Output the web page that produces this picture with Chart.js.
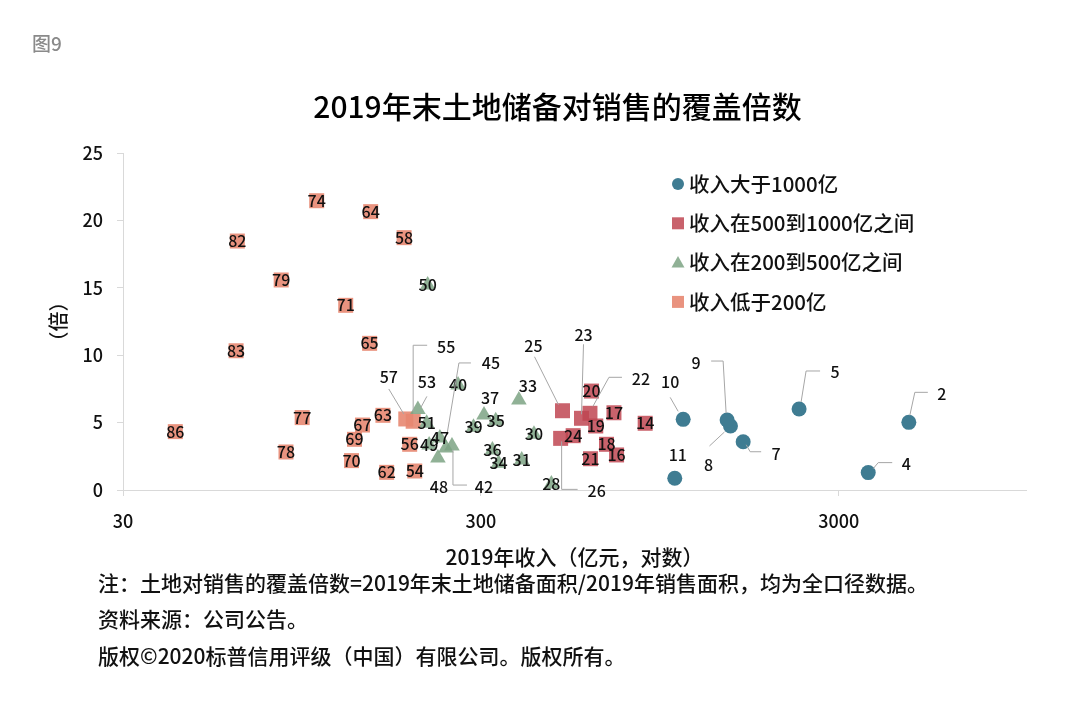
<!DOCTYPE html>
<html lang="zh-CN">
<head>
<meta charset="utf-8">
<title>2019年末土地储备对销售的覆盖倍数</title>
<script src="https://cdn.jsdelivr.net/npm/chart.js@4/dist/chart.umd.min.js"></script>
<style>
	html, body { margin: 0; padding: 0; background: #fff; }
	#wrap { position: relative; width: 1080px; height: 705px; overflow: hidden; font-family: "Noto Sans CJK SC", "Noto Sans", sans-serif; }
	#chart-cover { position: absolute; left: 0; top: 0; }
	.fig-no { position: absolute; left: 32px; top: 31px; font-size: 19px; line-height: 24px; color: #8a8a8a; font-weight: 500; }
	.chart-title { position: absolute; left: 0; top: 87px; width: 1115px; text-align: center; font-size: 30px; line-height: 36px; color: #000; font-weight: 500; }
	.note { position: absolute; left: 98px; font-size: 21px; line-height: 24px; color: #111; white-space: nowrap; font-weight: 500; }
</style>
</head>
<body>
<div id="wrap">
	<canvas id="chart-cover" width="1080" height="705"></canvas>
	<div class="fig-no">图9</div>
	<div class="chart-title">2019年末土地储备对销售的覆盖倍数</div>
	<div class="note" style="top: 570px;">注：土地对销售的覆盖倍数=2019年末土地储备面积/2019年销售面积，均为全口径数据。</div>
	<div class="note" style="top: 606px;">资料来源：公司公告。</div>
	<div class="note" style="top: 643px;">版权©2020标普信用评级（中国）有限公司。版权所有。</div>
</div>
<script>
// Data: revenue (亿元) and land bank cover (倍), grouped by revenue bracket
const SERIES_NAMES = ["收入大于1000亿", "收入在500到1000亿之间", "收入在200到500亿之间", "收入低于200亿"];

const BIG_IDS = ["2", "4", "5", "7", "8", "9", "10", "11"];
const BIG_REVENUE = [4706, 3624, 2323, 1621, 1494, 1462, 1102, 1044];
const BIG_COVER = [5.02, 1.29, 6.01, 3.58, 4.75, 5.19, 5.24, 0.87];

const MID_IDS = ["14", "16", "17", "18", "19", "20", "21", "22", "23", "24", "25", "26"];
const MID_REVENUE = [863, 718, 706, 673, 628, 611, 607, 605, 573, 543, 507, 501];
const MID_COVER = [4.95, 2.6, 5.73, 3.39, 4.75, 7.34, 2.32, 5.69, 5.32, 4.03, 5.88, 3.83];

const SMALL_IDS = ["28", "30", "31", "33", "34", "35", "36", "37", "39", "40", "42", "45", "47", "48", "49", "50", "51", "53"];
const SMALL_REVENUE = [472, 422, 390, 383, 336, 330, 323, 306, 286, 259, 249, 239.5, 230.4, 227.5, 215, 213, 211.6, 200];
const SMALL_COVER = [0.45, 4.13, 2.23, 6.68, 1.98, 5.14, 2.97, 5.56, 4.65, 7.79, 3.26, 3.12, 3.86, 2.37, 3.34, 15.2, 4.95, 5.98];

const TINY_IDS = ["54", "55", "56", "57", "58", "62", "63", "64", "65", "67", "69", "70", "71", "74", "77", "78", "79", "82", "83", "86"];
const TINY_REVENUE = [196, 194, 189.7, 185, 183, 163.6, 159.7, 147.6, 146.6, 140, 133, 130.5, 125.7, 104.3, 95, 85.6, 83, 62.6, 62.1, 42];
const TINY_COVER = [1.41, 5.1, 3.39, 5.27, 18.72, 1.31, 5.54, 20.65, 10.88, 4.82, 3.76, 2.18, 13.7, 21.46, 5.37, 2.82, 15.58, 18.47, 10.33, 4.33];

const X_TICKS = [30, 300, 3000];
const X_TICK_LABELS = ["30", "300", "3000"];
const X_TITLE = "2019年收入（亿元，对数）";
const Y_TITLE = "（倍）";

// Styles
const FONT = "'Noto Sans CJK SC', 'Noto Sans', sans-serif";
const TEXT_COLOR = "#111";
const AXIS_COLOR = "#d9d9d9";
const LEADER_COLOR = "#a6a6a6";
const COLORS = {
	blue: "rgb(63, 124, 146)",
	red: "rgba(191, 71, 82, 0.85)",
	green: "rgba(125, 163, 132, 0.85)",
	orange: "rgba(231, 135, 113, 0.9)",
};

// Labels moved off their marker (px offsets from the point, leader line points)
const LABEL_OFFSETS = {
	2: { dx: 33, dy: -28, line: [[1, -7], [6, -30], [19, -30]] },
	4: { dx: 38, dy: -9, line: [[5, -4], [10, -10], [24, -10]] },
	5: { dx: 36, dy: -37, line: [[2, -7], [7, -38], [21, -38]] },
	7: { dx: 33, dy: 12, line: [[3, 3], [7, 10], [18, 10]] },
	8: { dx: -22, dy: 39, line: [[-6, 6], [-21, 20]] },
	9: { dx: -31, dy: -57, line: [[-1, -7], [-4, -59], [-16, -59]] },
	10: { dx: -13, dy: -37, line: [[-5, -8], [-13, -22]] },
	11: { dx: 3, dy: -23 },
	22: { dx: 51, dy: -34, line: [[3, -7], [19, -36], [32, -36]] },
	23: { dx: 2, dy: -83, line: [[0, -4], [2, -74]] },
	25: { dx: -29, dy: -65, line: [[-4, -6], [-28, -54]] },
	26: { dx: 36, dy: 53, line: [[1, 3], [1, 51], [17, 51]] },
	33: { dx: 9, dy: -14 },
	37: { dx: 6, dy: -17 },
	42: { dx: 32, dy: 41, line: [[1, 4], [1, 39], [15, 39]] },
	45: { dx: 45, dy: -85, line: [[1, -13], [13, -85], [25, -85]] },
	48: { dx: 1, dy: 29 },
	53: { dx: 9, dy: -27, line: [[3, -2], [9, -13]] },
	55: { dx: 33, dy: -74, line: [[0, -10], [0, -76], [14, -76]] },
	57: { dx: -17, dy: -42, line: [[-2, -5], [-17, -30]] },
};

const toPoints = (xs, ys) => xs.map((x, i) => ({ x, y: ys[i] }));

const CHART_DATA = {
	datasets: [
		{
			label: SERIES_NAMES[0],
			data: toPoints(BIG_REVENUE, BIG_COVER),
			pointLabels: BIG_IDS,
			pointStyle: "circle",
			pointRadius: 7.5,
			backgroundColor: COLORS.blue,
			borderWidth: 0,
		},
		{
			label: SERIES_NAMES[1],
			data: toPoints(MID_REVENUE, MID_COVER),
			pointLabels: MID_IDS,
			pointStyle: "rect",
			pointRadius: 10.6,
			backgroundColor: COLORS.red,
			borderWidth: 0,
		},
		{
			label: SERIES_NAMES[2],
			data: toPoints(SMALL_REVENUE, SMALL_COVER),
			pointLabels: SMALL_IDS,
			pointStyle: "triangle",
			pointRadius: 9,
			backgroundColor: COLORS.green,
			borderWidth: 0,
		},
		{
			label: SERIES_NAMES[3],
			data: toPoints(TINY_REVENUE, TINY_COVER),
			pointLabels: TINY_IDS,
			pointStyle: "rect",
			pointRadius: 10.6,
			backgroundColor: COLORS.orange,
			borderWidth: 0,
		},
	],
};

// Draw the ids on (or next to) every marker
const pointLabelsPlugin = {
	id: "pointLabels",
	afterDatasetsDraw(chart) {
		const { ctx } = chart;
		ctx.save();
		ctx.font = "500 16px " + FONT;
		ctx.textAlign = "center";
		ctx.textBaseline = "middle";
		chart.data.datasets.forEach((ds, di) => {
			chart.getDatasetMeta(di).data.forEach((pt, i) => {
				const text = ds.pointLabels[i];
				const off = LABEL_OFFSETS[text];
				let dx = 0;
				let dy = 0;
				if (off) {
					dx = off.dx;
					dy = off.dy;
					if (off.line) {
						ctx.beginPath();
						ctx.strokeStyle = LEADER_COLOR;
						ctx.lineWidth = 1;
						off.line.forEach(([lx, ly], k) => {
							if (k === 0) ctx.moveTo(pt.x + lx, pt.y + ly);
							else ctx.lineTo(pt.x + lx, pt.y + ly);
						});
						ctx.stroke();
					}
				}
				ctx.fillStyle = TEXT_COLOR;
				ctx.fillText(text, pt.x + dx, pt.y + dy);
			});
		});
		ctx.restore();
	},
};

// Legend inside the plot area, top right
const legendPlugin = {
	id: "insideLegend",
	afterDraw(chart) {
		const { ctx } = chart;
		const x = 678;
		const top = 184;
		const rowGap = 39.3;
		ctx.save();
		ctx.font = "500 20.5px " + FONT;
		ctx.textAlign = "left";
		ctx.textBaseline = "middle";
		chart.data.datasets.forEach((ds, i) => {
			const y = top + i * rowGap;
			ctx.fillStyle = ds.backgroundColor;
			ctx.beginPath();
			if (ds.pointStyle === "circle") {
				ctx.arc(x, y, 6, 0, Math.PI * 2);
			} else if (ds.pointStyle === "triangle") {
				ctx.moveTo(x, y - 6.5);
				ctx.lineTo(x + 6.5, y + 5);
				ctx.lineTo(x - 6.5, y + 5);
				ctx.closePath();
			} else {
				ctx.rect(x - 6, y - 6, 12, 12);
			}
			ctx.fill();
			ctx.fillStyle = TEXT_COLOR;
			ctx.fillText(ds.label, x + 11, y);
		});
		ctx.restore();
	},
};

const CHART_CONFIG = {
	type: "scatter",
	data: CHART_DATA,
	options: {
		responsive: false,
		animation: false,
		layout: {
			padding: { top: 153, left: 40, right: 54, bottom: 125 },
		},
		scales: {
			x: {
				type: "logarithmic",
				min: 30,
				max: 10000,
				afterBuildTicks: (scale) => {
					scale.ticks = X_TICKS.map((v) => ({ value: v }));
				},
				afterFit: (scale) => {
					scale.height = 90;
				},
				border: { display: true, color: AXIS_COLOR },
				grid: { drawOnChartArea: false, drawTicks: true, tickLength: 6, color: AXIS_COLOR },
				ticks: {
					autoSkip: false,
					maxRotation: 0,
					padding: 14,
					color: TEXT_COLOR,
					font: { family: FONT, size: 18, weight: 500 },
					callback: (value, index) => X_TICK_LABELS[index],
				},
				title: {
					display: true,
					text: X_TITLE,
					color: TEXT_COLOR,
					font: { family: FONT, size: 21, weight: 500 },
					padding: { top: 0, bottom: 10 },
				},
			},
			y: {
				min: 0,
				max: 25,
				afterFit: (scale) => {
					scale.width = 83;
				},
				border: { display: true, color: AXIS_COLOR },
				grid: { drawOnChartArea: false, drawTicks: true, tickLength: 6, color: AXIS_COLOR },
				ticks: {
					stepSize: 5,
					padding: 14,
					color: TEXT_COLOR,
					font: { family: FONT, size: 18, weight: 500 },
				},
				title: {
					display: true,
					text: Y_TITLE,
					color: TEXT_COLOR,
					font: { family: FONT, size: 20, weight: 500 },
					padding: { top: 6, bottom: 0 },
				},
			},
		},
		plugins: {
			legend: { display: false },
			tooltip: { enabled: false },
			title: { display: false },
		},
	},
	plugins: [pointLabelsPlugin, legendPlugin],
};

new Chart(document.getElementById("chart-cover"), CHART_CONFIG);
</script>
</body>
</html>
